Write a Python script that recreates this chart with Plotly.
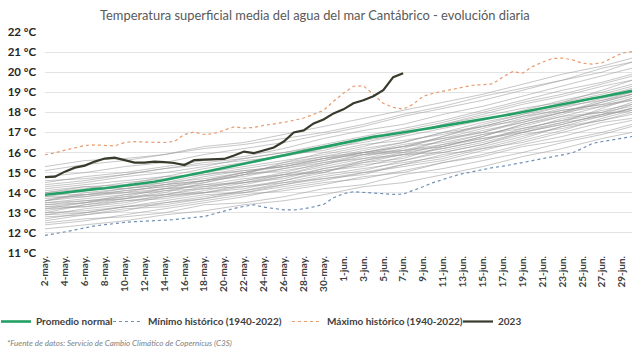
import pandas as pd
import plotly.graph_objects as go

# ---------------- data ----------------
dates = pd.date_range("2023-05-02", "2023-06-30", freq="D")  # daily categories

promedio_normal = [13.90, 13.96, 14.02, 14.07, 14.13, 14.18, 14.22, 14.28, 14.34, 14.41,
                   14.48, 14.55, 14.63, 14.72, 14.82, 14.93, 15.03, 15.13, 15.24, 15.34,
                   15.45, 15.55, 15.65, 15.76, 15.86, 15.96, 16.07, 16.17, 16.27, 16.37,
                   16.48, 16.58, 16.70, 16.78, 16.85, 16.92, 17.00, 17.08, 17.16, 17.24,
                   17.32, 17.40, 17.48, 17.56, 17.64, 17.73, 17.83, 17.92, 18.02, 18.11,
                   18.21, 18.31, 18.40, 18.50, 18.59, 18.69, 18.78, 18.88, 18.97, 19.07]

minimo_historico = [11.88, 11.95, 12.05, 12.15, 12.25, 12.35, 12.41, 12.48, 12.52, 12.56,
                    12.58, 12.60, 12.63, 12.66, 12.72, 12.76, 12.82, 12.95, 13.10, 13.22,
                    13.32, 13.40, 13.28, 13.20, 13.15, 13.14, 13.20, 13.30, 13.42, 13.75,
                    13.95, 14.05, 14.02, 13.96, 13.94, 13.92, 13.93, 14.10, 14.30, 14.50,
                    14.68, 14.82, 14.95, 15.05, 15.18, 15.25, 15.32, 15.40, 15.50, 15.60,
                    15.70, 15.80, 15.90, 15.98, 16.20, 16.45, 16.55, 16.63, 16.72, 16.80]

maximo_historico = [15.89, 15.98, 16.12, 16.25, 16.35, 16.38, 16.35, 16.33, 16.50, 16.55,
                    16.52, 16.50, 16.50, 16.55, 16.90, 17.02, 16.90, 16.95, 17.10, 17.28,
                    17.22, 17.25, 17.35, 17.42, 17.50, 17.60, 17.72, 17.90, 18.10, 18.55,
                    18.95, 19.30, 19.32, 18.90, 18.45, 18.25, 18.16, 18.40, 18.80, 18.95,
                    19.05, 19.15, 19.25, 19.35, 19.38, 19.42, 19.75, 20.03, 19.95, 20.28,
                    20.50, 20.68, 20.70, 20.62, 20.45, 20.40, 20.47, 20.70, 20.95, 21.02]

serie_2023 = [14.78, 14.80, 15.05, 15.25, 15.35, 15.55, 15.70, 15.75, 15.62, 15.50,
              15.50, 15.55, 15.52, 15.48, 15.38, 15.62, 15.65, 15.66, 15.68, 15.85,
              16.05, 15.97, 16.10, 16.25, 16.55, 17.00, 17.10, 17.45, 17.65, 17.95,
              18.15, 18.45, 18.60, 18.80, 19.10, 19.75, 19.95]

# historical years (1940-2022), sampled every 4 days (read approximately from the grey band)
hist_days = [0, 4, 8, 12, 16, 20, 24, 28, 32, 36, 40, 44, 48, 52, 56, 59]
hist_years = [
    [12.2, 12.4, 12.6, 12.9, 13.1, 13.4, 13.6, 13.9, 14.3, 14.5, 14.9, 15.3, 15.8, 16.2, 16.7, 17.0],
    [12.5, 12.7, 12.8, 13.0, 13.4, 13.5, 13.8, 14.2, 14.4, 14.9, 15.2, 15.6, 16.0, 16.5, 16.9, 17.3],
    [12.8, 12.9, 13.2, 13.3, 13.6, 13.9, 14.1, 14.4, 14.8, 15.0, 15.5, 15.8, 16.3, 16.6, 17.0, 17.4],
    [13.0, 13.1, 13.3, 13.6, 13.9, 14.0, 14.4, 14.7, 14.9, 15.4, 15.7, 16.2, 16.5, 17.0, 17.5, 17.7],
    [13.1, 13.4, 13.6, 13.7, 14.0, 14.3, 14.5, 14.9, 15.2, 15.5, 15.8, 16.3, 16.8, 17.3, 17.6, 18.0],
    [13.3, 13.3, 13.5, 13.9, 14.2, 14.3, 14.6, 15.1, 15.4, 15.6, 16.1, 16.5, 17.0, 17.4, 17.9, 18.2],
    [13.4, 13.6, 13.8, 13.9, 14.3, 14.6, 14.9, 15.0, 15.5, 15.9, 16.2, 16.6, 17.1, 17.7, 18.0, 18.3],
    [13.5, 13.7, 13.9, 14.2, 14.4, 14.7, 14.9, 15.3, 15.7, 15.9, 16.4, 16.9, 17.3, 17.8, 18.3, 18.6],
    [13.6, 13.8, 14.1, 14.3, 14.6, 14.8, 15.2, 15.5, 15.7, 16.1, 16.6, 17.0, 17.6, 18.1, 18.4, 18.8],
    [13.7, 13.9, 14.0, 14.4, 14.8, 15.1, 15.3, 15.6, 16.0, 16.4, 16.7, 17.2, 17.7, 18.2, 18.7, 19.0],
    [13.8, 14.1, 14.3, 14.5, 14.7, 15.0, 15.4, 15.8, 16.2, 16.5, 17.0, 17.5, 17.9, 18.3, 18.8, 19.2],
    [14.0, 14.2, 14.5, 14.7, 15.0, 15.3, 15.6, 15.9, 16.3, 16.8, 17.2, 17.6, 18.1, 18.6, 19.0, 19.4],
    [14.1, 14.3, 14.4, 14.8, 15.2, 15.5, 15.9, 16.1, 16.6, 16.9, 17.4, 17.9, 18.4, 18.8, 19.3, 19.6],
    [14.3, 14.5, 14.8, 15.0, 15.3, 15.7, 16.0, 16.4, 16.8, 17.2, 17.6, 18.1, 18.6, 19.1, 19.5, 19.9],
    [14.5, 14.8, 15.0, 15.3, 15.6, 15.8, 16.2, 16.7, 17.1, 17.4, 17.9, 18.3, 18.8, 19.3, 19.8, 20.2],
    [14.8, 15.0, 15.3, 15.5, 15.9, 16.2, 16.5, 16.9, 17.3, 17.8, 18.2, 18.6, 19.1, 19.6, 20.0, 20.5],
    [15.1, 15.4, 15.6, 15.9, 16.3, 16.5, 16.9, 17.3, 17.7, 18.1, 18.5, 18.9, 19.4, 19.9, 20.3, 20.7],
    [12.9, 13.2, 13.4, 13.8, 14.1, 14.5, 14.7, 15.2, 15.5, 15.7, 16.3, 16.8, 17.4, 17.9, 18.5, 18.9],
    [13.2, 13.5, 13.9, 14.1, 14.2, 14.6, 15.0, 15.5, 15.9, 16.3, 16.5, 16.9, 17.2, 17.6, 17.9, 18.1],
    [13.9, 13.9, 14.1, 14.3, 14.5, 14.9, 15.1, 15.4, 15.8, 16.2, 16.8, 17.3, 17.8, 18.1, 18.4, 18.6],
    [12.6, 12.9, 13.1, 13.5, 13.7, 14.0, 14.3, 14.6, 15.0, 15.3, 15.6, 16.1, 16.6, 17.1, 17.7, 18.1],
    [14.6, 14.7, 14.9, 15.2, 15.4, 15.6, 15.8, 16.2, 16.5, 16.9, 17.4, 17.8, 18.2, 18.5, 18.9, 19.3],
    [13.4, 13.5, 13.7, 14.0, 14.5, 14.9, 15.2, 15.6, 16.0, 16.1, 16.4, 16.7, 17.0, 17.4, 17.9, 18.4],
    [12.4, 12.6, 12.9, 13.2, 13.5, 13.8, 14.2, 14.5, 14.7, 15.1, 15.5, 15.9, 16.4, 16.8, 17.3, 17.6],
    [13.6, 14.0, 14.2, 14.4, 14.6, 14.9, 15.5, 15.8, 16.0, 16.3, 16.8, 17.4, 17.9, 18.5, 19.1, 19.6],
    [14.2, 14.4, 14.6, 14.8, 14.9, 15.2, 15.5, 16.0, 16.4, 16.6, 16.9, 17.3, 17.8, 18.3, 18.6, 18.9],
    [15.3, 15.6, 15.7, 15.9, 16.2, 16.4, 16.7, 17.0, 17.4, 17.9, 18.3, 18.8, 19.2, 19.6, 20.2, 20.5],
    [13.2, 13.3, 13.6, 13.8, 14.0, 14.4, 14.8, 15.1, 15.3, 15.8, 16.2, 16.6, 17.2, 17.6, 18.1, 18.4],
    [13.5, 13.6, 13.7, 14.1, 14.4, 14.5, 14.9, 15.4, 15.9, 16.1, 16.3, 16.8, 17.4, 17.8, 18.0, 18.5],
    [13.0, 13.4, 13.7, 13.9, 14.0, 14.2, 14.6, 15.0, 15.6, 15.9, 16.0, 16.4, 17.0, 17.5, 17.8, 18.2],
    [13.8, 13.8, 14.0, 14.2, 14.6, 15.0, 15.4, 15.7, 15.9, 16.0, 16.6, 17.1, 17.5, 18.0, 18.6, 19.0],
    [12.9, 13.0, 13.3, 13.5, 13.8, 14.1, 14.4, 14.8, 15.1, 15.6, 16.0, 16.4, 16.9, 17.2, 17.6, 17.9],
    [14.0, 14.3, 14.2, 14.5, 14.9, 15.1, 15.3, 15.7, 16.1, 16.5, 17.0, 17.3, 17.6, 18.0, 18.5, 18.9],
    [13.3, 13.5, 13.8, 14.2, 14.3, 14.5, 14.8, 15.2, 15.6, 16.0, 16.3, 16.7, 17.1, 17.5, 18.2, 18.7],
    [12.7, 13.0, 13.3, 13.4, 13.7, 14.1, 14.5, 14.7, 15.0, 15.4, 15.9, 16.2, 16.7, 17.3, 17.8, 18.2],
    [14.4, 14.6, 14.9, 15.2, 15.5, 15.7, 16.0, 16.3, 16.7, 17.1, 17.5, 18.0, 18.5, 18.9, 19.4, 19.8],
    [13.6, 13.9, 14.2, 14.4, 14.6, 15.0, 15.3, 15.7, 16.0, 16.3, 16.7, 17.0, 17.5, 18.0, 18.3, 18.7],
]

tick_labels = ["2-may.", "4-may.", "6-may.", "8-may.", "10-may.", "12-may.", "14-may.",
               "16-may.", "18-may.", "20-may.", "22-may.", "24-may.", "26-may.", "28-may.",
               "30-may.", "1-jun.", "3-jun.", "5-jun.", "7-jun.", "9-jun.", "11-jun.",
               "13-jun.", "15-jun.", "17-jun.", "19-jun.", "21-jun.", "23-jun.", "25-jun.",
               "27-jun.", "29-jun."]
y_ticks = list(range(11, 23))
y_tick_labels = [f"{v} ºC" for v in y_ticks]

title_text = "Temperatura superficial media del agua del mar Cantábrico - evolución diaria"
source_text = "*Fuente de datos: Servicio de Cambio Climático de Copernicus (C3S)"

# ---------------- figure ----------------
FONT = "Lato"
fig = go.Figure()

hist_x = [dates[d] for d in hist_days]
for yr in hist_years:
    fig.add_trace(go.Scatter(x=hist_x, y=yr, mode="lines", showlegend=False,
                             hoverinfo="skip",
                             line=dict(color="rgba(150,150,150,0.6)", width=0.9)))

fig.add_trace(go.Scatter(x=dates, y=promedio_normal, mode="lines", name="Promedio normal",
                         legendwidth=67,
                         line=dict(color="#23a065", width=2.6)))
fig.add_trace(go.Scatter(x=dates, y=minimo_historico, mode="lines",
                         name="Mínimo histórico (1940-2022)", legendwidth=134,
                         line=dict(color="#6f8fb5", width=1.2, dash="dot")))
fig.add_trace(go.Scatter(x=dates, y=maximo_historico, mode="lines",
                         name="Máximo histórico (1940-2022)", legendwidth=126,
                         line=dict(color="#e89a6c", width=1.2, dash="dot")))
fig.add_trace(go.Scatter(x=dates[:len(serie_2023)], y=serie_2023, mode="lines", name="2023",
                         legendwidth=25,
                         line=dict(color="#393a2c", width=2.2)))

fig.update_layout(
    width=640, height=353,
    margin=dict(l=45, r=8, t=32, b=100, autoexpand=False),
    paper_bgcolor="white", plot_bgcolor="white",
    font=dict(family=FONT, color="#404040"),
    title=dict(text=title_text, x=0.492, xanchor="center", y=1 - 15 / 353, yanchor="middle",
               font=dict(family=FONT, size=12.9, color="#595959")),
    showlegend=True,
    legend=dict(orientation="h", x=-0.0835, xanchor="left", y=-0.31, yanchor="middle",
                font=dict(family=FONT, size=10, color="#404040", weight="bold"),
                traceorder="normal", itemwidth=30, bgcolor="rgba(0,0,0,0)"),
    xaxis=dict(range=[dates[0], dates[-1]], tickmode="array",
               tickvals=list(dates[::2]), ticktext=tick_labels, tickangle=-90,
               tickfont=dict(family=FONT, size=10, color="#404040", weight="bold"),
               showgrid=False, zeroline=False, showline=False, ticks=""),
    yaxis=dict(range=[11, 22], tickmode="array", tickvals=y_ticks, ticktext=y_tick_labels,
               tickfont=dict(family=FONT, size=11.5, color="#262626", weight="bold"),
               showgrid=True, gridcolor="#e3e3e3", gridwidth=0.8, zeroline=False,
               showline=False, ticks="", ticklabelstandoff=8),
    annotations=[dict(text=f"<i>{source_text}</i>", xref="paper", yref="paper",
                      x=-0.068, y=-0.405, xanchor="left", yanchor="middle", showarrow=False,
                      font=dict(family=FONT, size=8, color="#808080"))],
)

fig.write_html("out.html")
